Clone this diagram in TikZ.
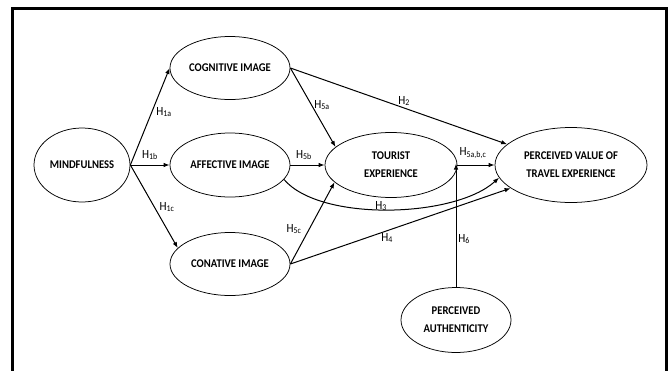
\documentclass[tikz,border=0pt]{standalone}
\usepackage{fontspec}
\setmainfont{Carlito}
\newfontfamily\narrowfont[FakeStretch=0.9]{Carlito}
\usetikzlibrary{shapes.geometric,arrows.meta}
\begin{document}
\begin{tikzpicture}[x=1pt,y=-1pt,
  construct/.style={ellipse,draw,line width=0.75pt,inner sep=0pt,align=center,
    font=\narrowfont\fontsize{11.8}{18}\selectfont\bfseries},
  link/.style={line width=1pt,-{Latex[length=6pt,width=4.5pt]}},
  hyp/.style={inner sep=1pt,font=\narrowfont\fontsize{12.5}{13}\selectfont}]
\useasboundingbox (0,0) rectangle (669,370);
% frame
\draw[line width=3pt] (12,372) -- (12,8) -- (666,8) -- (666,372);

% constructs
\node[construct,minimum width=96pt,minimum height=74pt] (mind) at (82,165) {MINDFULNESS};
\node[construct,minimum width=120pt,minimum height=63pt] (cog) at (230,68) {COGNITIVE IMAGE};
\node[construct,minimum width=120pt,minimum height=64pt] (aff) at (230,165) {AFFECTIVE IMAGE};
\node[construct,minimum width=120pt,minimum height=63pt] (con) at (230,264) {CONATIVE IMAGE};
\node[construct,minimum width=132pt,minimum height=65pt] (tour) at (391,165) {TOURIST\\EXPERIENCE};
\node[construct,minimum width=152pt,minimum height=75pt] (pv) at (571,165) {PERCEIVED VALUE OF\\TRAVEL EXPERIENCE};
\node[construct,minimum width=110pt,minimum height=65pt] (auth) at (456,320) {PERCEIVED\\AUTHENTICITY};

% paths
\draw[link] (mind.east) -- (cog.west);
\draw[link] (mind.east) -- (aff.west);
\draw[link] (mind.east) -- (con.163);
\draw[link] (cog.east) -- (tour.162);
\draw[link] (cog.east) -- (pv.162);
\draw[link] (aff.east) -- (tour.west);
\draw[link] (tour.east) -- (pv.west);
\draw[link] (aff.345) .. controls (320,222) and (455,218) .. (pv.190);
\draw[link] (con.east) -- (tour.197);
\draw[link] (con.east) -- (pv.201);
\coordinate (mod) at (auth.north |- tour.east);
\draw[link] (auth.north) -- ([yshift=1.5pt]mod);

% hypothesis labels
\node[hyp] (h1a) at (164,112) {H\textsubscript{1a}};
\node[hyp] (h1b) at (150,155) {H\textsubscript{1b}};
\node[hyp] (h1c) at (167,207) {H\textsubscript{1c}};
\node[hyp] (h5a) at (322,105) {H\textsubscript{5a}};
\node[hyp] (h5b) at (304,155) {H\textsubscript{5b}};
\node[hyp] (h2) at (404,101) {H\textsubscript{2}};
\node[hyp] (h5abc) at (473,153) {H\textsubscript{5a,b,c}};
\node[hyp] (h3) at (381,206) {H\textsubscript{3}};
\node[hyp] (h4) at (387,238) {H\textsubscript{4}};
\node[hyp] (h5c) at (294,229) {H\textsubscript{5c}};
\node[hyp] (h6) at (464,239) {H\textsubscript{6}};
\end{tikzpicture}
\end{document}
